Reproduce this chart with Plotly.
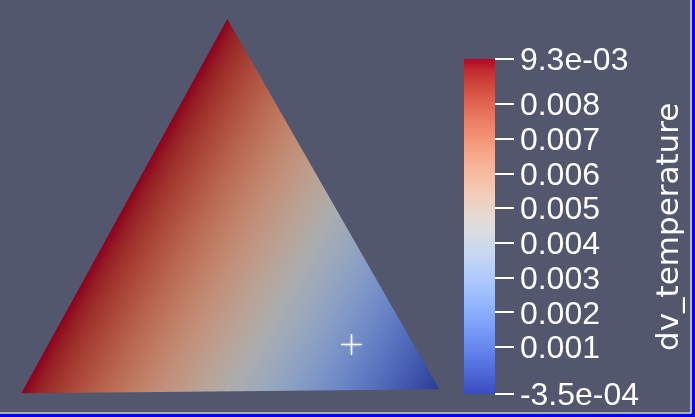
import plotly.graph_objects as go

W, H = 695, 417

# ---- data: one triangle cell with point data "dv_temperature" ----
node_x = [21.3, 227.3, 439.3]
node_y = [23.7, 398.0, 27.7]
node_z = [0.0, 0.0, 0.0]
cell_i = [0]
cell_j = [1]
cell_k = [2]
dv_temperature = [0.0093, 0.0093, -0.00035]

range_min = -0.00035
range_max = 0.0093
tick_values = [-0.00035, 0.001, 0.002, 0.003, 0.004, 0.005, 0.006, 0.007, 0.008, 0.0093]
tick_labels = ["-3.5e-04", "0.001", "0.002", "0.003", "0.004", "0.005",
               "0.006", "0.007", "0.008", "9.3e-03"]
title_text = "dv_temperature"

center_axes_px = [351.5, 344.5]

# ParaView "Cool to Warm" lookup table
cw_rgb = [
    (59, 76, 192), (68, 90, 204), (77, 104, 215), (87, 117, 225), (98, 130, 234),
    (108, 142, 241), (119, 154, 247), (130, 165, 251), (141, 176, 254), (152, 185, 255),
    (163, 194, 255), (174, 201, 253), (184, 208, 249), (194, 213, 244), (204, 217, 238),
    (213, 219, 230), (221, 221, 221), (229, 216, 209), (236, 211, 197), (241, 204, 185),
    (245, 196, 173), (247, 187, 160), (247, 177, 148), (247, 166, 135), (244, 154, 123),
    (241, 141, 111), (236, 127, 99), (229, 112, 88), (222, 96, 77), (213, 80, 66),
    (203, 62, 56), (192, 40, 47), (180, 4, 38),
]
n = len(cw_rgb) - 1
colorscale = [[i / n, "rgb(%d,%d,%d)" % c] for i, c in enumerate(cw_rgb)]

BG = "#52576e"

fig = go.Figure()
fig.add_trace(go.Mesh3d(
    x=node_x, y=node_y, z=node_z, i=cell_i, j=cell_j, k=cell_k,
    intensity=dv_temperature, intensitymode="vertex",
    colorscale=colorscale, cmin=range_min, cmax=range_max,
    lighting=dict(ambient=0.78, diffuse=0.0, specular=0.0, fresnel=0.0, roughness=1.0),
    flatshading=False, hoverinfo="skip",
    colorbar=dict(
        x=464 / W, xanchor="left", xpad=0,
        y=1 - 226.5 / H, yanchor="middle", ypad=0,
        len=335, lenmode="pixels", thickness=31, thicknessmode="pixels",
        outlinewidth=0, borderwidth=0, bgcolor="rgba(0,0,0,0)",
        tickmode="array", tickvals=tick_values, ticktext=tick_labels,
        ticks="outside", ticklen=19, tickwidth=1.5, tickcolor="white",
        tickfont=dict(family="Liberation Sans", size=32, color="white"),
    ),
))

fig.update_layout(
    width=W, height=H, margin=dict(l=0, r=0, t=0, b=0),
    paper_bgcolor=BG, plot_bgcolor=BG, showlegend=False,
    scene=dict(
        domain=dict(x=[0, 1], y=[0, 1]),
        bgcolor=BG,
        xaxis=dict(visible=False, range=[0, W]),
        yaxis=dict(visible=False, range=[0, H]),
        zaxis=dict(visible=False, range=[-1, 1]),
        aspectmode="manual", aspectratio=dict(x=2 * W / H, y=2, z=0.2),
        camera=dict(eye=dict(x=0, y=0, z=1.2), up=dict(x=0, y=1, z=0),
                    center=dict(x=0, y=0, z=0), projection=dict(type="orthographic")),
    ),
)

fig.add_annotation(
    text=title_text,
    xref="paper", yref="paper", x=667 / W, y=1 - 227 / H,
    xanchor="center", yanchor="middle", textangle=-90, showarrow=False,
    font=dict(family="DejaVu Sans", size=31, color="white"),
)

# center-of-rotation glyph
cx, cy = center_axes_px[0] / W, 1 - center_axes_px[1] / H
arm = 10.5
for wdt, op, a in [(4, 0.18, arm), (2, 0.35, arm * 0.8), (1.1, 0.95, arm)]:
    fig.add_shape(type="line", xref="paper", yref="paper",
                  x0=cx - a / W, x1=cx + a / W, y0=cy, y1=cy,
                  line=dict(color="white", width=wdt), opacity=op, layer="above")
    fig.add_shape(type="line", xref="paper", yref="paper",
                  x0=cx, x1=cx, y0=cy - a / H, y1=cy + a / H,
                  line=dict(color="white", width=wdt), opacity=op, layer="above")

# active-view border (white + blue) on right and bottom
fig.add_shape(type="rect", xref="paper", yref="paper", x0=692 / W, x1=1, y0=0, y1=1,
              fillcolor="#0000ff", line=dict(width=0), layer="above")
fig.add_shape(type="rect", xref="paper", yref="paper", x0=0, x1=1, y0=0, y1=3 / H,
              fillcolor="#0000ff", line=dict(width=0), layer="above")
fig.add_shape(type="line", xref="paper", yref="paper", x0=691 / W, x1=691 / W, y0=4 / H, y1=1,
              line=dict(color="white", width=1.2), layer="above")
fig.add_shape(type="line", xref="paper", yref="paper", x0=0, x1=691 / W, y0=4 / H, y1=4 / H,
              line=dict(color="white", width=1.2), layer="above")

fig.write_html(
    "out.html", config=dict(displayModeBar=False),
    post_script="document.body.style.margin='0';document.body.style.overflow='hidden';",
)
